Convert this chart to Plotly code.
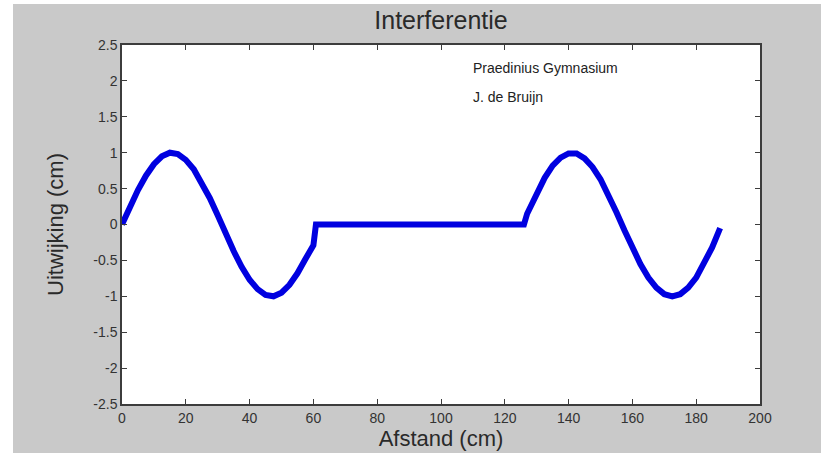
import plotly.graph_objects as go

# Segment 1: wave from the left source
x1 = [0, 2.5, 5, 7.5, 10, 12.5, 15, 17.5, 20, 22.5, 25, 27.5, 30, 32.5, 35, 37.5,
      40, 42.5, 45, 47.5, 50, 52.5, 55, 57.5, 60]
y1 = [0, 0.25, 0.48, 0.68, 0.84, 0.95, 1.0, 0.98, 0.9, 0.77, 0.59, 0.37, 0.13, -0.13,
      -0.37, -0.59, -0.77, -0.9, -0.98, -1.0, -0.95, -0.84, -0.68, -0.48, -0.29]
# Flat part (no displacement)
x2 = [60.8, 126]
y2 = [0, 0]
# Segment 2: wave from the right source
x3 = [127, 127.5, 130, 132.5, 135, 137.5, 140, 142.5, 145, 147.5, 150, 152.5, 155,
      157.5, 160, 162.5, 165, 167.5, 170, 172.5, 175, 177.5, 180, 182.5, 185, 187.5]
y3 = [0.15, 0.2, 0.44, 0.65, 0.82, 0.93, 0.99, 0.99, 0.92, 0.8, 0.63, 0.42, 0.17,
      -0.08, -0.32, -0.55, -0.74, -0.88, -0.97, -1.0, -0.97, -0.88, -0.74, -0.55,
      -0.32, -0.05]

xs = x1 + x2 + x3
ys = y1 + y2 + y3

xtick_vals = [0, 20, 40, 60, 80, 100, 120, 140, 160, 180, 200]
xtick_text = ["0", "20", "40", "60", "80", "100", "120", "140", "160", "180", "200"]
ytick_vals = [2.5, 2, 1.5, 1, 0.5, 0, -0.5, -1, -1.5, -2, -2.5]
ytick_text = ["2.5", "2", "1.5", "1", "0.5", "0", "-0.5", "-1", "-1.5", "-2", "-2.5"]

fig = go.Figure()
fig.add_trace(go.Scatter(x=xs, y=ys, mode="lines",
                         line=dict(color="#0000e0", width=6),
                         showlegend=False, hoverinfo="skip"))

axis_col = "#3c3c3c"
font_fam = "Liberation Sans, Arial, sans-serif"
tick_font = dict(family=font_fam, size=14, color="#333333")

fig.update_layout(
    width=821, height=453,
    margin=dict(l=122, r=61, t=45, b=49),
    paper_bgcolor="#c9c9c9",
    plot_bgcolor="white",
    title=dict(text="Interferentie", x=441/821, xanchor="center", y=1 - 20/453, yanchor="middle",
               font=dict(family=font_fam, size=25, color="#2a2a2a")),
    xaxis=dict(range=[0, 200], tickmode="array", tickvals=xtick_vals, ticktext=xtick_text,
               ticks="inside", ticklen=5, tickcolor=axis_col, showgrid=False, zeroline=False,
               showline=True, linecolor=axis_col, linewidth=1.5, mirror="ticks",
               automargin=False, tickfont=dict(family=font_fam, size=14, color="#333333"),
               title=dict(text="Afstand (cm)", standoff=2,
                          font=dict(family=font_fam, size=22, color="#2a2a2a"))),
    yaxis=dict(range=[-2.5, 2.5], tickmode="array", tickvals=ytick_vals, ticktext=ytick_text,
               ticks="inside", ticklen=5, tickcolor=axis_col, showgrid=False, zeroline=False,
               showline=True, linecolor=axis_col, linewidth=1.5, mirror="ticks",
               automargin=False, tickfont=tick_font,
               title=dict(text="Uitwijking (cm)", standoff=24,
                          font=dict(family=font_fam, size=22, color="#2a2a2a"))),
    annotations=[
        dict(text="Praedinius Gymnasium", xref="x", yref="y", x=109.5, y=2.18,
             xanchor="left", yanchor="middle", showarrow=False,
             font=dict(family=font_fam, size=14, color="#222222")),
        dict(text="J. de Bruijn", xref="x", yref="y", x=109.5, y=1.77,
             xanchor="left", yanchor="middle", showarrow=False,
             font=dict(family=font_fam, size=14, color="#222222")),
    ],
    shapes=[
        dict(type="rect", xref="paper", yref="paper",
             x0=(0 - 122) / 638, x1=(13 - 122) / 638, y0=-0.2, y1=1.2,
             fillcolor="white", line=dict(width=0), layer="above"),
        dict(type="rect", xref="paper", yref="paper",
             x0=(0 - 122) / 638, x1=(821 - 122) / 638, y0=(404 - 4) / 359, y1=1.2,
             fillcolor="white", line=dict(width=0), layer="above"),
    ],
)

fig.write_html("out.html", config={"displayModeBar": False},
               post_script="document.body.style.margin='0';document.body.style.padding='0';")
